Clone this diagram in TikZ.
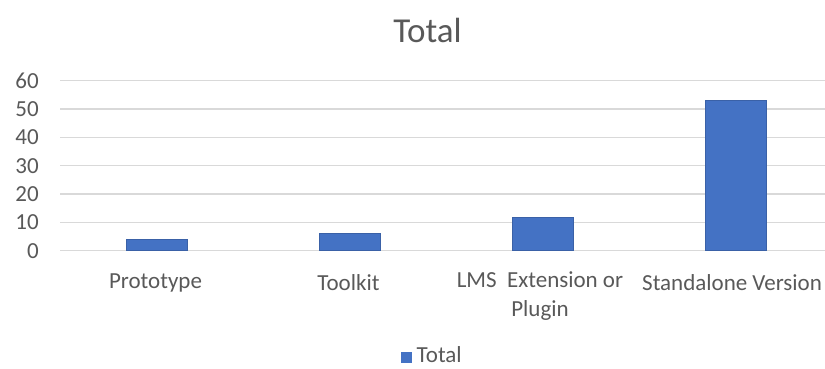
\documentclass[tikz,border=0pt]{standalone}
\usepackage{fontspec}
\setmainfont{Carlito}
\usepackage{tikz}
\definecolor{barBlue}{HTML}{4472C4}
\definecolor{textGray}{HTML}{595959}
\definecolor{gridGray}{HTML}{D9D9D9}
\tikzstyle{tickLabel}=[anchor = east, inner sep = 0pt, text = textGray, font = \fontsize{23}{27}\selectfont]
\tikzstyle{catLabel}=[anchor = center, inner sep = 0pt, align = center, text = textGray, font = \fontsize{23}{29}\selectfont]
\tikzstyle{legendLabel}=[anchor = base west, inner sep = 0pt, text = textGray, font = \fontsize{23}{27}\selectfont]

\begin{document}
\begin{tikzpicture}[x = 1pt, y = 1pt]
\tikzstyle{gridLine}=[draw = gridGray, line width = 1.2pt]
\tikzstyle{barStyle}=[fill = barBlue, draw = barBlue!85!black, line width = 0.4pt]
\tikzstyle{titleStyle}=[text = textGray, font = \fontsize{35}{40}\selectfont]
\useasboundingbox (0,0) rectangle (825,369);
\node[titleStyle] (title) at (427.5,339) {Total};
\begin{scope}[shift = {(60,118.3)}, y = 2.833pt]
\foreach \v in {0,10,...,60}{
  \draw[gridLine] (0,\v) -- (772,\v);
  \node[tickLabel] (tick\v) at (-21,\v) {\v};
}
\foreach \k/\val/\name in {0/4/proto, 1/6/toolkit, 2/12/lms, 3/53/standalone}{
  \path[barStyle] (96.5+193*\k-30.5,0) rectangle (96.5+193*\k+30.5,\val);
  \coordinate (\name) at (96.5+193*\k,0);
}
\end{scope}
\node[catLabel] (protoLabel) at (155.5,86) {Prototype};
\node[catLabel] (toolkitLabel) at (348.5,86) {Toolkit};
\node[catLabel, anchor = north] (lmsLabel) at (540,97.5) {LMS\ \ Extension or\\Plugin};
\node[catLabel, anchor = west] (standaloneLabel) at (642,86) {Standalone Version};
\node[fill = barBlue, minimum size = 11pt, inner sep = 0pt] (legendKey) at (406.5,11.5) {};
\node[legendLabel] (legendText) at (416.5,6.5) {Total};
\end{tikzpicture}
\end{document}
